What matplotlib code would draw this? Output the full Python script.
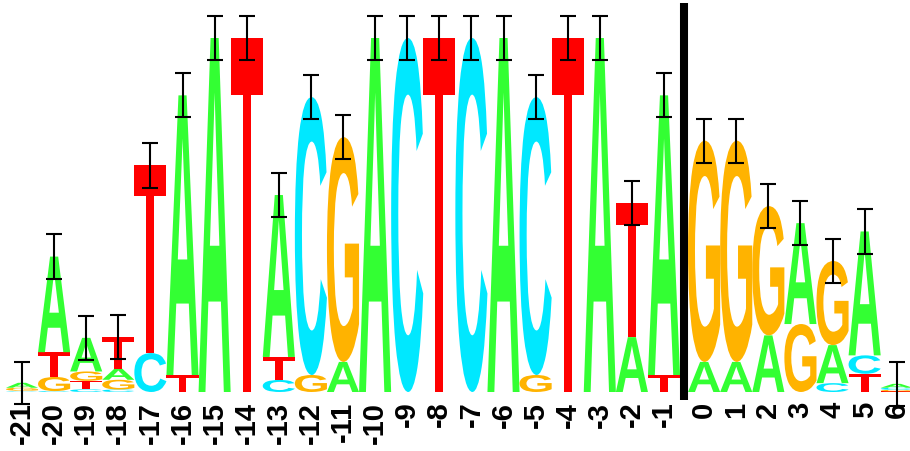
import numpy as np
import matplotlib
matplotlib.use("Agg")
import matplotlib.pyplot as plt
from matplotlib.textpath import TextPath
from matplotlib.font_manager import FontProperties
from matplotlib.patches import PathPatch
from matplotlib.transforms import Affine2D

# positions -21 .. 6
positions = list(range(-21, 7))

# information content (bits) for each base at each position
bits_A = [0.028, 0.54, 0.19, 0.062, 0.0, 1.58, 2.0, 0.0, 0.915, 0.0, 0.17, 2.0, 0.0, 0.0,
          0.0, 2.0, 0.0, 0.0, 2.0, 0.31, 1.58, 0.17, 0.17, 0.32, 0.57, 0.215, 0.70, 0.022]
bits_C = [0.003, 0.005, 0.015, 0.014, 0.22, 0.0, 0.0, 0.0, 0.068, 1.57, 0.0, 0.0, 2.0, 0.0,
          2.0, 0.0, 1.57, 0.0, 0.0, 0.0, 0.0, 0.0, 0.0, 0.0, 0.0, 0.05, 0.104, 0.012]
bits_G = [0.017, 0.08, 0.053, 0.055, 0.0, 0.0, 0.0, 0.0, 0.0, 0.096, 1.27, 0.0, 0.0, 0.0,
          0.0, 0.0, 0.096, 0.0, 0.0, 0.0, 0.0, 1.25, 1.25, 0.73, 0.384, 0.475, 0.0, 0.009]
bits_T = [0.004, 0.14, 0.048, 0.18, 1.06, 0.096, 0.0, 2.0, 0.13, 0.0, 0.0, 0.0, 0.0, 2.0,
          0.0, 0.0, 0.0, 2.0, 0.0, 0.757, 0.096, 0.0, 0.0, 0.0, 0.0, 0.0, 0.103, 0.003]
err = [0.12] + [0.125] * 27

colors = {"A": "#33ff33", "C": "#00e8ff", "G": "#ffb300", "T": "#ff0000"}
font = FontProperties(family="Liberation Sans", weight="bold")

# columns 0..6 sit a bit further right, past the divider
xpos = np.array([i + (0.25 if p >= 0 else 0.0) for i, p in enumerate(positions)])

fig = plt.figure(figsize=(9.1, 4.51), dpi=100)
ax = fig.add_axes([0, 59 / 451, 1, 392 / 451])
px_per_unit = 32.1
px_per_bit = 177
ax.set_xlim(-22 / px_per_unit, 888 / px_per_unit)
ax.set_ylim(0, 392 / px_per_bit)


def draw_letter(letter, x, y0, w, h):
    tp = TextPath((0, 0), letter, size=1, prop=font)
    bb = tp.get_extents()
    tr = (Affine2D().translate(-bb.x0, -bb.y0)
          .scale(w / bb.width, h / bb.height)
          .translate(x - w / 2, y0))
    path = tr.transform_path(tp)
    ax.add_patch(PathPatch(path, facecolor=colors[letter], edgecolor="none", lw=0))


tops = []
for i in range(len(positions)):
    stack = [("A", bits_A[i]), ("C", bits_C[i]), ("G", bits_G[i]), ("T", bits_T[i])]
    stack.sort(key=lambda s: s[1])
    y = 0.0
    for letter, h in stack:
        if h > 0:
            draw_letter(letter, xpos[i], y, 1.0, h)
            y += h
    tops.append(y)

ax.errorbar(xpos, tops, yerr=err, fmt="none", ecolor="black", elinewidth=1.5,
            capsize=6, capthick=1.5, clip_on=False, zorder=5)

# divider between -1 and 0
ax.plot([20.625, 20.625], [-8 / px_per_bit, 389 / px_per_bit], color="black",
        lw=5.8, solid_capstyle="butt", clip_on=False, zorder=6)

ax.set_xticks(xpos)
ax.set_xticklabels([str(p) for p in positions], rotation=90, fontsize=21,
                   fontweight="bold", family="Liberation Sans")
ax.tick_params(axis="x", length=0, pad=7)
ax.set_yticks([])
for s in ax.spines.values():
    s.set_visible(False)

fig.savefig("out.png", dpi=100)
